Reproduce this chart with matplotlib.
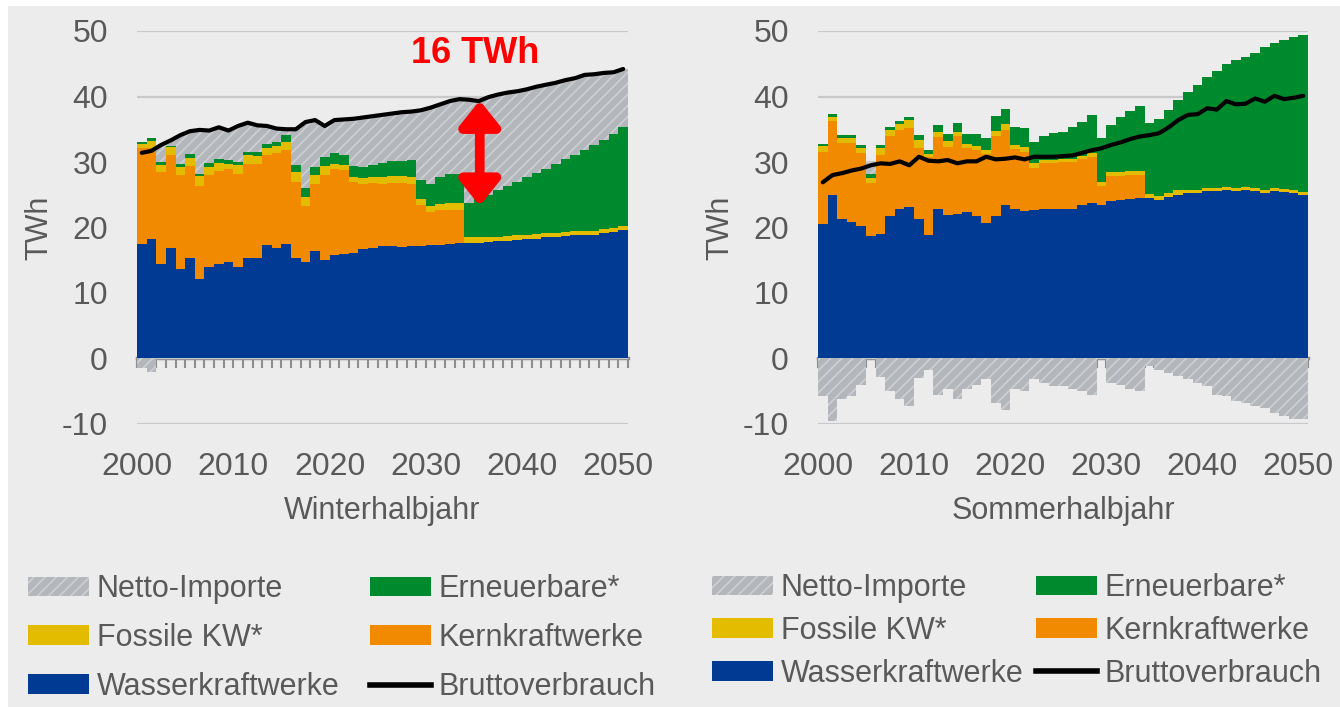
import numpy as np
import matplotlib.pyplot as plt
from matplotlib.patches import Patch, Rectangle
from matplotlib.lines import Line2D

plt.rcParams['font.family'] = ['Liberation Sans', 'DejaVu Sans']
plt.rcParams['axes.unicode_minus'] = False
plt.rcParams['hatch.linewidth'] = 1.2

years = np.arange(2000, 2051)

# Winterhalbjahr, TWh
wasser_w = [17.5, 18.2, 14.5, 16.9, 13.7, 15.4, 12.2, 13.9, 14.4, 14.8,
            14.0, 15.4, 15.4, 17.3, 16.8, 17.5, 15.3, 14.7, 16.4, 15.0,
            15.8, 15.9, 16.1, 16.7, 16.9, 17.1, 17.1, 17.0, 17.2, 17.1,
            17.3, 17.4, 17.5, 17.6, 17.7, 17.7, 17.8, 17.9, 18.0, 18.1,
            18.2, 18.3, 18.5, 18.6, 18.7, 18.8, 18.8, 18.9, 19.1, 19.3,
            19.6]
kern_w = [14.6, 14.0, 14.0, 14.2, 14.3, 14.0, 14.2, 14.1, 14.3, 14.1,
          14.2, 14.3, 14.3, 13.7, 14.5, 14.4, 11.7, 8.6, 10.3, 13.0,
          13.2, 12.9, 10.9, 10.0, 9.9, 9.6, 9.7, 9.8, 9.5, 6.3,
          5.1, 5.2, 5.2, 5.1, 0, 0, 0, 0, 0, 0,
          0, 0, 0, 0, 0, 0, 0, 0, 0, 0,
          0]
fossil_w = [0.6, 1.0, 1.1, 1.2, 1.2, 1.2, 1.4, 1.3, 1.2, 0.8,
            1.3, 1.4, 1.2, 1.2, 1.1, 1.2, 1.5, 1.4, 1.3, 1.4,
            0.7, 0.7, 0.7, 0.8, 0.9, 1.0, 1.0, 1.0, 1.0, 0.9,
            0.9, 1.0, 1.1, 1.1, 0.8, 0.8, 0.8, 0.7, 0.7, 0.7,
            0.7, 0.7, 0.6, 0.6, 0.6, 0.6, 0.6, 0.6, 0.6, 0.6,
            0.6]
erneuerbar_w = [0.3, 0.5, 0.4, 0.1, 0.5, 0.6, 0.4, 0.6, 0.5, 0.6,
                0.5, 0.5, 0.7, 0.6, 0.7, 1.0, 1.0, 1.3, 1.3, 1.4,
                1.6, 1.5, 1.7, 1.8, 1.8, 2.1, 2.3, 2.3, 2.6, 3.0,
                3.4, 4.1, 4.3, 4.3, 5.2, 5.8, 6.4, 7.1, 7.7, 8.2,
                8.8, 9.3, 9.9, 10.5, 11.1, 11.7, 12.4, 13.1, 13.6, 14.4,
                15.1]
importe_w = [-1.5, -2.0, 2.6, 0.9, 4.4, 3.5, 6.7, 4.9, 4.9, 4.5,
             5.5, 4.4, 4.0, 2.7, 2.0, 0.9, 5.5, 10.1, 7.1, 4.7,
             5.1, 5.5, 7.2, 7.5, 7.5, 7.4, 7.3, 7.5, 7.4, 10.6,
             11.6, 11.1, 11.2, 11.5, 15.8, 15.0, 14.9, 14.6, 14.2, 13.8,
             13.4, 13.2, 12.8, 12.4, 12.1, 11.7, 11.5, 10.8, 10.3, 9.4,
             8.9]
brutto_w = [31.4, 31.7, 32.6, 33.3, 34.1, 34.7, 34.9, 34.8, 35.3, 34.8,
            35.5, 36.0, 35.6, 35.5, 35.1, 35.0, 35.0, 36.1, 36.4, 35.5,
            36.4, 36.5, 36.6, 36.8, 37.0, 37.2, 37.4, 37.6, 37.7, 37.9,
            38.3, 38.8, 39.3, 39.6, 39.5, 39.3, 39.9, 40.3, 40.6, 40.8,
            41.1, 41.5, 41.8, 42.1, 42.5, 42.8, 43.3, 43.4, 43.6, 43.7,
            44.2]

# Sommerhalbjahr, TWh
wasser_s = [20.6, 24.9, 21.3, 20.9, 20.2, 18.7, 19.0, 21.7, 22.8, 23.1,
            21.3, 18.9, 22.8, 21.9, 22.1, 22.3, 21.8, 20.7, 21.7, 23.5,
            22.9, 22.5, 22.6, 22.8, 22.9, 22.8, 22.9, 23.4, 23.7, 23.4,
            24.0, 24.2, 24.4, 24.5, 24.5, 24.2, 24.6, 25.0, 25.2, 25.3,
            25.5, 25.6, 25.7, 25.6, 25.7, 25.5, 25.3, 25.5, 25.4, 25.2,
            24.9]
kern_s = [11.0, 11.4, 11.6, 12.0, 11.2, 8.1, 12.1, 12.3, 12.1, 12.1,
          10.9, 11.8, 11.0, 10.4, 11.9, 9.8, 10.0, 10.5, 12.2, 11.4,
          9.1, 9.1, 6.5, 7.1, 7.0, 7.2, 7.1, 7.0, 7.1, 2.9,
          3.8, 3.7, 3.6, 3.5, 0, 0, 0, 0, 0, 0,
          0, 0, 0, 0, 0, 0, 0, 0, 0, 0,
          0]
fossil_s = [0.8, 0.6, 0.8, 0.8, 0.8, 0.8, 1.0, 0.9, 0.9, 1.2,
            1.2, 0.45, 0.75, 0.85, 0.55, 0.65, 0.6, 0.6, 0.85, 0.85,
            0.6, 0.75, 0.75, 0.4, 0.4, 0.4, 0.4, 0.5, 0.5, 0.65,
            0.6, 0.6, 0.65, 0.65, 0.65, 0.6, 0.6, 0.65, 0.5, 0.5,
            0.5, 0.5, 0.5, 0.5, 0.5, 0.5, 0.5, 0.5, 0.5, 0.5,
            0.5]
erneuerbar_s = [0.4, 0.4, 0.35, 0.35, 0.4, 0.5, 0.5, 0.5, 0.5, 0.5,
                0.65, 0.65, 1.05, 1.15, 1.35, 1.6, 1.8, 1.9, 2.2, 2.3,
                2.7, 2.85, 3.15, 3.6, 4.2, 4.2, 4.9, 5.2, 5.8, 6.65,
                7.2, 8.3, 9.15, 9.85, 10.85, 11.7, 12.7, 13.85, 15.0, 16.0,
                17.0, 17.8, 18.8, 19.4, 19.9, 20.7, 21.7, 22.2, 22.8, 23.4,
                24.0]
importe_s = [-5.7, -9.5, -6.2, -5.7, -4.0, 1.8, -2.9, -5.0, -6.2, -7.3,
             -3.0, -1.8, -5.5, -4.7, -6.2, -4.7, -4.0, -3.2, -6.8, -7.8,
             -4.7, -5.0, -3.2, -3.7, -4.2, -4.2, -4.7, -5.0, -5.5, 0.0,
             -3.7, -4.0, -4.7, -5.0, -1.2, -1.7, -2.2, -2.7, -3.2, -3.7,
             -4.2, -5.5, -5.7, -6.5, -6.8, -7.3, -7.5, -8.3, -8.8, -9.3,
             -9.3]
brutto_s = [26.9, 28.0, 28.3, 28.7, 29.0, 29.5, 29.8, 29.7, 30.1, 29.5,
            30.8, 30.2, 30.1, 30.3, 29.8, 30.1, 30.1, 30.8, 30.4, 30.5,
            30.7, 30.4, 30.8, 30.8, 30.8, 30.9, 31.0, 31.4, 31.8, 32.1,
            32.6, 33.0, 33.5, 33.9, 34.1, 34.4, 35.3, 36.4, 37.2, 37.3,
            38.2, 38.0, 39.3, 38.8, 38.9, 39.7, 39.2, 40.1, 39.6, 39.8,
            40.1]

BLUE = '#003a92'
ORANGE = '#f28a00'
YELLOW = '#e3bc00'
GREEN = '#008a2e'
GREY = '#b3b7bc'
HATCH = '#cdd0d3'
BG = '#ececec'
TXT = '#595959'

W, H = 1340, 707
fig = plt.figure(figsize=(W / 100, H / 100), dpi=100, facecolor='white')
fig.patches.append(Rectangle((8 / W, 0), 1, 1 - 6 / H, transform=fig.transFigure,
                             facecolor=BG, edgecolor='none', zorder=-10))

ax1 = fig.add_axes([137 / W, 1 - 424 / H, 491 / W, 393 / H])
ax2 = fig.add_axes([818 / W, 1 - 424 / H, 490 / W, 393 / H])


def draw_panel(ax, wasser, kern, fossil, erneuerbar, importe, brutto, xlabel):
    wasser = np.array(wasser)
    kern = np.array(kern)
    fossil = np.array(fossil)
    erneuerbar = np.array(erneuerbar)
    importe = np.array(importe)
    kw = dict(width=1, align='edge', linewidth=0, zorder=2)
    ax.bar(years, wasser, color=BLUE, **kw)
    ax.bar(years, kern, bottom=wasser, color=ORANGE, **kw)
    ax.bar(years, fossil, bottom=wasser + kern, color=YELLOW, **kw)
    ax.bar(years, erneuerbar, bottom=wasser + kern + fossil, color=GREEN, **kw)
    top = wasser + kern + fossil + erneuerbar
    ax.bar(years, importe, bottom=np.where(importe > 0, top, 0), color=GREY,
           edgecolor=HATCH, hatch='///', **kw)
    ax.plot(years + 0.5, brutto, color='black', lw=3, zorder=4,
            solid_capstyle='round', solid_joinstyle='round')

    ax.set_facecolor('none')
    ax.set_xlim(2000, 2051)
    ax.set_ylim(-10, 50)
    ax.set_yticks(range(-10, 51, 10))
    ax.set_xticks(range(2000, 2051, 10))
    ax.grid(axis='y', color='#c8c9cb', lw=1.6)
    ax.set_axisbelow(True)
    for s in ax.spines.values():
        s.set_visible(False)
    ax.tick_params(axis='y', length=0, labelsize=23, labelcolor=TXT, pad=21)
    ax.tick_params(axis='x', length=0, labelsize=23, labelcolor=TXT, pad=20)
    ax.set_ylabel('TWh', fontsize=22, color=TXT, labelpad=5)
    ax.set_xlabel(xlabel, fontsize=22, color=TXT, labelpad=10)

    # x axis line at zero with a small tick at every bar edge
    sec = ax.secondary_xaxis(1 / 6)
    sec.set_xticks(np.arange(2000, 2052))
    sec.tick_params(direction='out', length=7, width=1.5, color='#8e8e8e',
                    labelbottom=False, labeltop=False)
    for s in sec.spines.values():
        s.set_color('#8e8e8e')
        s.set_linewidth(2.5)


draw_panel(ax1, wasser_w, kern_w, fossil_w, erneuerbar_w, importe_w, brutto_w,
           'Winterhalbjahr')
draw_panel(ax2, wasser_s, kern_s, fossil_s, erneuerbar_s, importe_s, brutto_s,
           'Sommerhalbjahr')

# 16 TWh gap marker
ax1.annotate('', xy=(2035.6, 39.4), xytext=(2035.6, 23.3),
             arrowprops=dict(arrowstyle='<|-|>,head_length=1.5,head_width=1.2',
                             color='#ff0000', lw=7, shrinkA=0, shrinkB=0),
             zorder=6)
ax1.text(2035.1, 46.6, '16 TWh', color='#ff0000', fontsize=26,
         fontweight='bold', ha='center', va='center')

handles = [
    Patch(facecolor=GREY, edgecolor=HATCH, hatch='///', linewidth=0),
    Patch(facecolor=YELLOW, linewidth=0),
    Patch(facecolor=BLUE, linewidth=0),
    Patch(facecolor=GREEN, linewidth=0),
    Patch(facecolor=ORANGE, linewidth=0),
    Line2D([], [], color='black', lw=4),
]
labels = ['Netto-Importe', 'Fossile KW*', 'Wasserkraftwerke',
          'Erneuerbare*', 'Kernkraftwerke', 'Bruttoverbrauch']

leg_kw = dict(ncol=2, loc='upper left', frameon=False, fontsize=22,
              handlelength=2.0, handleheight=0.6, handletextpad=0.25,
              borderpad=0, borderaxespad=0, labelcolor=TXT)
fig.legend(handles, labels, bbox_to_anchor=(28 / W, 1 - 574 / H),
           columnspacing=1.0, labelspacing=0.62, **leg_kw)
fig.legend(handles, labels, bbox_to_anchor=(712 / W, 1 - 573 / H),
           columnspacing=0.4, labelspacing=0.42, **leg_kw)

fig.savefig('out.png', dpi=100, facecolor=fig.get_facecolor())
